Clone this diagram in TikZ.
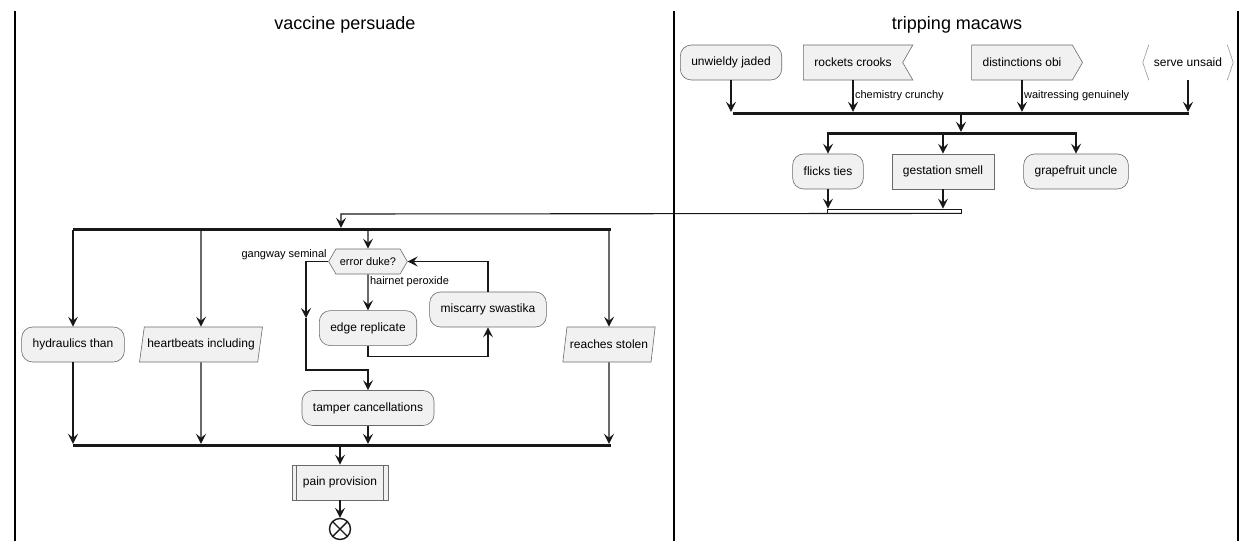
\documentclass[tikz,border=0pt]{standalone}
\usepackage{fontspec}
\setmainfont{Liberation Sans}
\usetikzlibrary{positioning,arrows.meta,shapes.symbols,shapes.geometric}
\definecolor{actfill}{HTML}{F1F1F1}
\definecolor{actline}{HTML}{181818}
\definecolor{actborder}{HTML}{6A6A6A}

\begin{document}
\begin{tikzpicture}[x=1pt,y=-1pt,
    font=\fontsize{12}{14}\selectfont,
    act/.style={draw=actborder, fill=actfill, line width=0.6pt, minimum height=35pt, inner xsep=11pt},
    rnd/.style={act, rounded corners=11pt},
    para/.style={act, trapezium, trapezium left angle=75, trapezium right angle=105, trapezium stretches body, inner xsep=3pt},
    flag/.style={act, signal, signal pointer angle=120},
    hexa/.style={act, signal, signal to=west and east, signal pointer angle=120, minimum height=25pt, inner xsep=4pt, font=\fontsize{11}{13}\selectfont},
    bar/.style={fill=actline, draw=actline, inner sep=0pt, minimum height=2pt},
    mergebar/.style={draw=actline, fill=white, inner sep=0pt, minimum height=4pt, line width=0.8pt},
    flow/.style={draw=actline, line width=1.1pt, -{Stealth[length=10pt,width=10pt,inset=4pt]}},
    note/.style={font=\fontsize{11}{13}\selectfont, inner sep=1.5pt},
    lane/.style={line width=1.5pt},
    title/.style={font=\fontsize{18}{22}\selectfont}]
  \useasboundingbox (0,0) rectangle (1257,551);

  \draw[lane] (15,11) -- (15,541);
  \draw[lane] (674,11) -- (674,541);
  \draw[lane] (1238,11) -- (1238,541);
  \node[title] (titlea) at (345,25) {vaccine persuade};
  \node[title] (titleb) at (957,25) {tripping macaws};

  \node[rnd] (uj) at (731,62.5) {unwieldy jaded};
  \node[flag, signal to=nowhere, signal from=east] (rc) at (853,62.5) {rockets crooks};
  \node[flag, signal to=east] (dob) at (1022,62.5) {distinctions obi};
  \node[minimum height=35pt, inner xsep=11pt] (su) at (1188,62.5) {serve unsaid};
  \draw[actborder!70, line width=0.6pt] ([xshift=6pt]su.north west) -- (su.west) -- ([xshift=6pt]su.south west);
  \draw[actborder!70, line width=0.6pt] ([xshift=-6pt]su.north east) -- (su.east) -- ([xshift=-6pt]su.south east);

  \node[bar, minimum width=455pt] (jointop) at (961,113) {};
  \node[bar, minimum width=249pt] (forktop) at (951.5,133) {};
  \node[rnd] (ft) at (828,171.5) {flicks ties};
  \node[act] (gs) at (943,171.5) {gestation smell};
  \node[rnd] (gu) at (1076,171.5) {grapefruit uncle};
  \node[mergebar, minimum width=134pt] (mergetop) at (894,211) {};

  \draw[flow] (uj) -- (uj |- jointop.north);
  \draw[flow] (rc.south) -- node[note, right] {chemistry crunchy} (rc.south |- jointop.north);
  \draw[flow] (dob.south) -- node[note, right] {waitressing genuinely} (dob.south |- jointop.north);
  \draw[flow] (su) -- (su |- jointop.north);
  \draw[flow] (jointop) -- (jointop |- forktop.north);
  \draw[flow] (forktop.south -| ft) -- (ft);
  \draw[flow] (forktop.south -| gs) -- (gs);
  \draw[flow] (forktop.south -| gu) -- (gu);
  \draw[flow] (ft) -- (ft |- mergetop.north);
  \draw[flow] (gs) -- (gs |- mergetop.north);

  \node[bar, minimum width=537pt] (forkleft) at (341.5,229) {};
  \coordinate (hop) at (341,214);
  \draw[flow] (mergetop.south east) -- (hop) -- (hop |- forkleft.north);

  \node[rnd] (ht) at (73,344.5) {hydraulics than};
  \node[para] (hi) at (201,344.5) {heartbeats including};
  \node[hexa] (dk) at (368,261.5) {error duke?};
  \node[rnd, below=36pt of dk] (er) {edge replicate};
  \node[rnd] (ms) at (488,309.5) {miscarry swastika};
  \node[rnd] (tc) at (368,408) {tamper cancellations};
  \node[para] (rs) at (609,344.5) {reaches stolen};
  \node[note, anchor=south east] (gwlabel) at (dk.west) {gangway seminal};

  \draw[flow] (forkleft.south -| ht) -- (ht);
  \draw[flow] (forkleft.south -| hi) -- (hi);
  \draw[flow] (forkleft.south -| dk) -- (dk);
  \draw[flow] (forkleft.south -| rs) -- (rs);
  \draw[flow] (dk) -- node[note, pos=0, anchor=north west] {hairnet peroxide} (er);
  \draw[flow] (er.south) -- ++(0,11) -| (ms.south);
  \draw[flow] (ms.north) |- (dk.east);
  \coordinate (gwmid) at (306,318);
  \coordinate (gwlow) at (306,370);
  \draw[flow] (dk.west) -| (gwmid);
  \draw[flow] (gwmid) -- (gwlow) -| (tc.north);

  \node[bar, minimum width=537pt] (mergeleft) at (341.5,445) {};
  \draw[flow] (ht) -- (ht |- mergeleft.north);
  \draw[flow] (hi) -- (hi |- mergeleft.north);
  \draw[flow] (tc) -- (tc |- mergeleft.north);
  \draw[flow] (rs) -- (rs |- mergeleft.north);

  \node[act] (pp) at (340,482.5) {pain provision};
  \draw[actborder, line width=0.6pt] ([xshift=5pt]pp.north west) -- ([xshift=5pt]pp.south west);
  \draw[actborder, line width=0.6pt] ([xshift=-5pt]pp.north east) -- ([xshift=-5pt]pp.south east);
  \node[circle, draw=actline, line width=1.4pt, minimum size=21pt, inner sep=0pt,
    path picture={\draw[actline, line width=1.4pt]
      (path picture bounding box.north west) -- (path picture bounding box.south east)
      (path picture bounding box.north east) -- (path picture bounding box.south west);}]
    (stop) at (340,529) {};
  \draw[flow] (mergeleft.south -| pp) -- (pp);
  \draw[flow] (pp) -- (stop);
\end{tikzpicture}
\end{document}
